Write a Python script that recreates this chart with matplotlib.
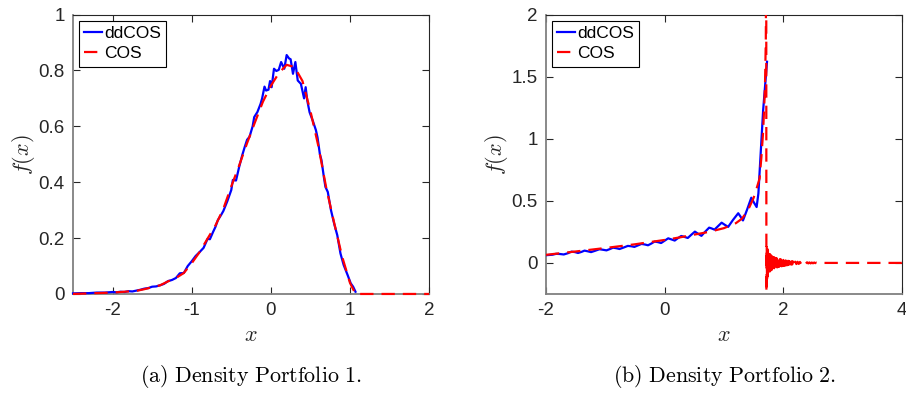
import matplotlib
matplotlib.use("Agg")
import matplotlib.pyplot as plt

plt.rcParams["font.family"] = ["Liberation Sans", "DejaVu Sans"]
plt.rcParams["mathtext.fontset"] = "cm"
plt.rcParams["axes.unicode_minus"] = False

# --- Portfolio 1 ---
p1_dd_x = [-2.50, -2.40, -2.30, -2.20, -2.10, -2.00, -1.95, -1.90, -1.85, -1.80,
           -1.75, -1.70, -1.65, -1.60, -1.55, -1.50, -1.45, -1.40, -1.35, -1.30,
           -1.25, -1.20, -1.15, -1.10, -1.05, -1.00, -0.95, -0.90, -0.85, -0.80,
           -0.77, -0.73, -0.70, -0.67, -0.63, -0.60, -0.55, -0.50, -0.48, -0.44,
           -0.40, -0.36, -0.33, -0.30, -0.27, -0.23, -0.21, -0.17, -0.13, -0.11,
           -0.08, -0.06, -0.03, -0.01, 0.01, 0.04, 0.07, 0.10, 0.13, 0.17,
           0.20, 0.23, 0.25, 0.28, 0.31, 0.34, 0.38, 0.42, 0.44, 0.46,
           0.49, 0.53, 0.57, 0.59, 0.62, 0.64, 0.67, 0.69, 0.72, 0.76,
           0.80, 0.84, 0.88, 0.92, 0.97, 1.01, 1.04, 1.07]
p1_dd_y = [0.002, 0.003, 0.003, 0.005, 0.005, 0.007, 0.006, 0.008, 0.007, 0.010,
           0.009, 0.012, 0.015, 0.019, 0.021, 0.026, 0.027, 0.031, 0.036, 0.046,
           0.050, 0.057, 0.074, 0.075, 0.100, 0.117, 0.136, 0.150, 0.165, 0.197,
           0.196, 0.222, 0.240, 0.264, 0.282, 0.297, 0.332, 0.372, 0.408, 0.406,
           0.455, 0.498, 0.526, 0.552, 0.562, 0.600, 0.633, 0.651, 0.680, 0.700,
           0.742, 0.728, 0.731, 0.762, 0.740, 0.806, 0.798, 0.802, 0.830, 0.806,
           0.855, 0.843, 0.840, 0.788, 0.830, 0.764, 0.752, 0.700, 0.740, 0.693,
           0.650, 0.620, 0.586, 0.560, 0.500, 0.479, 0.419, 0.383, 0.365, 0.300,
           0.252, 0.210, 0.145, 0.104, 0.068, 0.038, 0.026, 0.008]

p1_cos_x = [-2.5, -2.4, -2.3, -2.2, -2.1, -2.0, -1.9, -1.8, -1.7, -1.6,
            -1.5, -1.4, -1.3, -1.2, -1.1, -1.0, -0.9, -0.8, -0.7, -0.6,
            -0.5, -0.4, -0.3, -0.2, -0.1, 0.0, 0.1, 0.2, 0.3, 0.4,
            0.5, 0.6, 0.7, 0.8, 0.9, 1.0, 1.07, 1.5, 2.0]
p1_cos_y = [0.000, 0.001, 0.002, 0.003, 0.004, 0.005, 0.007, 0.009, 0.011, 0.017,
            0.024, 0.031, 0.045, 0.057, 0.075, 0.110, 0.150, 0.198, 0.245, 0.305,
            0.385, 0.460, 0.540, 0.615, 0.688, 0.745, 0.790, 0.820, 0.812, 0.762,
            0.655, 0.530, 0.380, 0.255, 0.135, 0.040, 0.000, 0.000, 0.000]

# --- Portfolio 2 ---
p2_dd_x = [-2.00, -1.89, -1.83, -1.77, -1.70, -1.63, -1.57, -1.51, -1.46, -1.40,
           -1.35, -1.30, -1.24, -1.17, -1.10, -1.04, -0.98, -0.92, -0.87, -0.81,
           -0.76, -0.69, -0.62, -0.56, -0.51, -0.45, -0.39, -0.33, -0.28, -0.22,
           -0.17, -0.11, -0.06, 0.00, 0.06, 0.11, 0.17, 0.22, 0.28, 0.33,
           0.39, 0.45, 0.51, 0.56, 0.62, 0.68, 0.75, 0.79, 0.84, 0.90,
           0.96, 1.01, 1.07, 1.15, 1.24, 1.28, 1.32, 1.39, 1.46, 1.50,
           1.55, 1.58, 1.60, 1.63, 1.66, 1.70, 1.725]
p2_dd_y = [0.062, 0.066, 0.073, 0.072, 0.068, 0.078, 0.091, 0.087, 0.080, 0.089,
           0.099, 0.094, 0.087, 0.098, 0.110, 0.106, 0.101, 0.112, 0.123, 0.118,
           0.112, 0.124, 0.137, 0.134, 0.129, 0.141, 0.153, 0.148, 0.142, 0.157,
           0.172, 0.167, 0.160, 0.179, 0.198, 0.190, 0.180, 0.198, 0.217, 0.210,
           0.201, 0.227, 0.252, 0.236, 0.218, 0.250, 0.284, 0.278, 0.268, 0.296,
           0.324, 0.308, 0.290, 0.345, 0.400, 0.372, 0.342, 0.430, 0.525, 0.490,
           0.450, 0.560, 0.730, 0.980, 1.230, 1.470, 1.620]

p2_cos_x = [-2.0, -1.5, -1.0, -0.5, 0.0, 0.25, 0.5, 0.75, 1.0, 1.2,
            1.3, 1.4, 1.5, 1.55, 1.6, 1.63, 1.66, 1.69, 1.705, 1.712,
            1.716,
            1.720, 1.725, 1.730, 1.735, 1.740, 1.745, 1.750, 1.755, 1.760, 1.765,
            1.770, 1.775, 1.780, 1.785, 1.790, 1.795, 1.800, 1.805, 1.810, 1.815,
            1.820, 1.825, 1.830, 1.835, 1.840, 1.845, 1.850, 1.855, 1.860, 1.865,
            1.870, 1.875, 1.880, 1.885, 1.890, 1.895,
            1.90, 1.91, 1.92, 1.93, 1.94, 1.95, 1.96, 1.97, 1.98, 1.99,
            2.00, 2.01, 2.02, 2.03, 2.04, 2.05, 2.06, 2.07, 2.08, 2.09,
            2.10, 2.11, 2.12, 2.13, 2.14, 2.15, 2.16, 2.17, 2.18, 2.19,
            2.20, 2.22, 2.24, 2.26, 2.28, 2.30, 2.32, 2.34, 2.36, 2.38,
            2.40, 2.42, 2.44, 2.46, 2.48, 2.50, 2.52, 2.54, 2.56, 2.58,
            2.65, 4.0]
p2_cos_y = [0.065, 0.092, 0.120, 0.150, 0.185, 0.205, 0.228, 0.250, 0.280, 0.320,
            0.355, 0.420, 0.525, 0.600, 0.680, 0.850, 1.060, 1.400, 1.800, 2.600,
            -1.500,
            0.140, -0.130, 0.120, -0.110, 0.102, -0.095, 0.090, -0.085, 0.080, -0.076,
            0.072, -0.068, 0.065, -0.062, 0.060, -0.058, 0.056, -0.054, 0.052, -0.050,
            0.049, -0.047, 0.046, -0.045, 0.044, -0.043, 0.042, -0.041, 0.040, -0.039,
            0.038, -0.038, 0.037, -0.037, 0.036, -0.036,
            0.035, -0.033, 0.032, -0.031, 0.030, -0.029, 0.028, -0.027, 0.026, -0.025,
            0.024, -0.023, 0.022, -0.021, 0.020, -0.019, 0.018, -0.018, 0.017, -0.016,
            0.015, -0.015, 0.014, -0.013, 0.013, -0.012, 0.012, -0.011, 0.011, -0.010,
            0.010, -0.009, 0.009, -0.008, 0.008, -0.007, 0.007, -0.006, 0.006, -0.005,
            0.005, -0.004, 0.004, -0.004, 0.003, -0.003, 0.003, -0.002, 0.002, -0.002,
            0.000, 0.000]

p1_xticks = [-2, -1, 0, 1, 2]
p1_xticklabels = ["-2", "-1", "0", "1", "2"]
p1_yticks = [0, 0.2, 0.4, 0.6, 0.8, 1]
p1_yticklabels = ["0", "0.2", "0.4", "0.6", "0.8", "1"]
p2_xticks = [-2, 0, 2, 4]
p2_xticklabels = ["-2", "0", "2", "4"]
p2_yticks = [0, 0.5, 1, 1.5, 2]
p2_yticklabels = ["0", "0.5", "1", "1.5", "2"]

captions = [r"$\mathrm{(a)\ Density\ Portfolio\ 1.}$",
            r"$\mathrm{(b)\ Density\ Portfolio\ 2.}$"]


def panel(ax, dd_x, dd_y, cos_x, cos_y, xlim, ylim, xt, xtl, yt, ytl, clip):
    ax.plot(dd_x, dd_y, color="#0000ff", lw=1.6, label="ddCOS", clip_on=clip,
            zorder=3)
    ax.plot(cos_x, cos_y, color="#ff0000", lw=1.6, dashes=(6, 3.6), label="COS",
            clip_on=clip, zorder=3.1)
    ax.set_xlim(*xlim)
    ax.set_ylim(*ylim)
    ax.set_xticks(xt)
    ax.set_xticklabels(xtl)
    ax.set_yticks(yt)
    ax.set_yticklabels(ytl)
    ax.tick_params(direction="in", top=True, right=True, length=5, width=0.8,
                   labelsize=13.5, colors="#262626", pad=6)
    for s in ("left", "bottom"):
        ax.spines[s].set_color("#808080")
        ax.spines[s].set_linewidth(1.3)
    for s in ("top", "right"):
        ax.spines[s].set_color("#262626")
        ax.spines[s].set_linewidth(0.8)
    ax.set_xlabel(r"$x$", fontsize=16, color="#262626", labelpad=4)
    ax.set_ylabel(r"$f(x)$", fontsize=16, color="#262626", labelpad=1)
    leg = ax.legend(loc="upper left", fontsize=12.5, handlelength=1.0,
                    handletextpad=0.15, borderpad=0.3, labelspacing=0.3,
                    borderaxespad=0.35, fancybox=False, framealpha=1)
    leg.get_frame().set_edgecolor("black")
    leg.get_frame().set_linewidth(0.8)
    leg.set_zorder(5)


fig = plt.figure(figsize=(9.06, 3.93), dpi=100)
ax1 = fig.add_axes([0.0806, 0.252, 0.393, 0.711])
ax2 = fig.add_axes([0.6026, 0.252, 0.393, 0.711])

panel(ax1, p1_dd_x, p1_dd_y, p1_cos_x, p1_cos_y, (-2.5, 2), (0, 1),
      p1_xticks, p1_xticklabels, p1_yticks, p1_yticklabels, False)
panel(ax2, p2_dd_x, p2_dd_y, p2_cos_x, p2_cos_y, (-2, 4), (-0.25, 2),
      p2_xticks, p2_xticklabels, p2_yticks, p2_yticklabels, True)

fig.text(0.277, 0.043, captions[0], ha="center", va="center", fontsize=15.8)
fig.text(0.80, 0.043, captions[1], ha="center", va="center", fontsize=15.8)

fig.savefig("out.png", dpi=100)
